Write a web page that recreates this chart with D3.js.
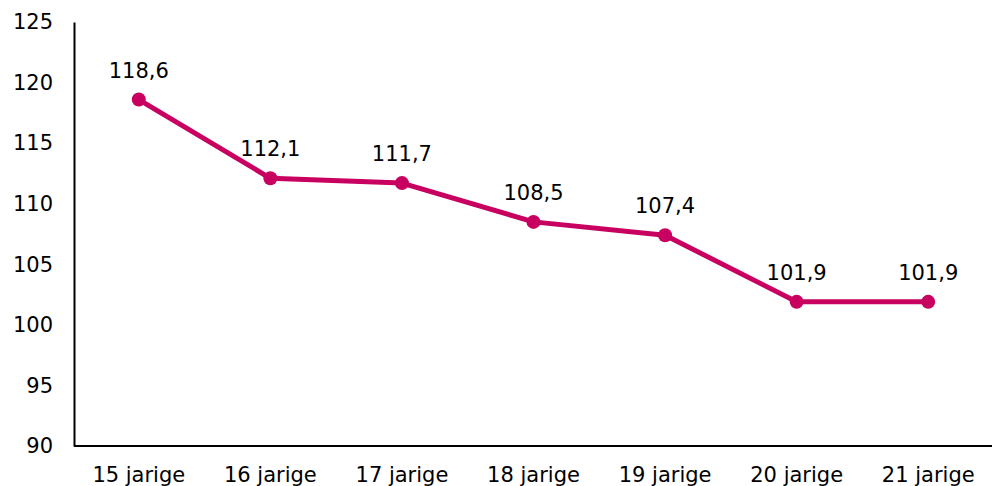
<!DOCTYPE html>
<html>
<head>
<meta charset="utf-8">
<script src="https://cdn.jsdelivr.net/npm/d3@7"></script>
<style>
  body { margin: 0; background: #fff; }
  text { font-family: "DejaVu Sans", Verdana, sans-serif; fill: #000; }
</style>
</head>
<body>
<div id="chart"></div>
<script>
const categories = ['15 jarige', '16 jarige', '17 jarige', '18 jarige', '19 jarige', '20 jarige', '21 jarige'];
const values = [118.6, 112.1, 111.7, 108.5, 107.4, 101.9, 101.9];
const yTicks = [90, 95, 100, 105, 110, 115, 120, 125];

const width = 992;
const height = 486;
const margin = { top: 22, right: 0, bottom: 40, left: 74 };
const color = '#c8005f';
const fontSize = '21px';

const svg = d3.select('#chart')
  .append('svg')
  .attr('width', width)
  .attr('height', height);

const xScale = d3.scaleBand()
  .domain(categories)
  .range([margin.left - 1, 994]);

const yScale = d3.scaleLinear()
  .domain([90, 125])
  .range([height - margin.bottom, margin.top]);

// y axis
const yAxis = d3.axisLeft(yScale)
  .tickValues(yTicks)
  .tickSize(0)
  .tickPadding(21);

svg.append('g')
  .attr('transform', `translate(${margin.left}, 0)`)
  .call(yAxis)
  .call(g => g.select('.domain').attr('stroke', '#000').attr('stroke-width', 2))
  .call(g => g.selectAll('text').style('font-size', fontSize).attr('font-family', null));

// x axis
const xAxis = d3.axisBottom(xScale).tickSize(0).tickPadding(21);

svg.append('g')
  .attr('transform', `translate(0, ${yScale(90)})`)
  .call(xAxis)
  .call(g => g.select('.domain')
    .attr('d', `M${margin.left},0H${width}`)
    .attr('stroke', '#000').attr('stroke-width', 2))
  .call(g => g.selectAll('text').style('font-size', fontSize).attr('font-family', null));

const line = d3.line()
  .x((d, i) => xScale(categories[i]) + xScale.bandwidth() / 2)
  .y(d => yScale(d));

svg.append('path')
  .datum(values)
  .attr('d', line)
  .attr('fill', 'none')
  .attr('stroke', color)
  .attr('stroke-width', 5)
  .attr('stroke-linejoin', 'round');

svg.selectAll('circle')
  .data(values)
  .enter()
  .append('circle')
  .attr('cx', (d, i) => xScale(categories[i]) + xScale.bandwidth() / 2)
  .attr('cy', d => yScale(d))
  .attr('r', 7)
  .attr('fill', color);

svg.selectAll('.label')
  .data(values)
  .enter()
  .append('text')
  .attr('class', 'label')
  .attr('x', (d, i) => xScale(categories[i]) + xScale.bandwidth() / 2)
  .attr('y', d => yScale(d) - 22)
  .attr('text-anchor', 'middle')
  .style('font-size', fontSize)
  .text(d => d.toFixed(1).replace('.', ','));
</script>
</body>
</html>
